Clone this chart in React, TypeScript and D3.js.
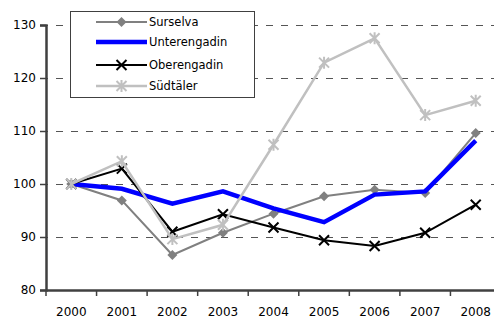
import React, { useEffect, useRef } from "react";
import * as d3 from "d3";

const years = ["2000", "2001", "2002", "2003", "2004", "2005", "2006", "2007", "2008"];
const yTicks = [80, 90, 100, 110, 120, 130];
const surselva = [100, 96.9, 86.6, 90.8, 94.4, 97.7, 98.9, 98.3, 109.6];
const unterengadin = [100, 99.1, 96.3, 98.6, 95.4, 92.8, 98.0, 98.6, 108.2];
const oberengadin = [100, 102.9, 91.0, 94.3, 91.8, 89.4, 88.3, 90.8, 96.1];
const suedtaeler = [100, 104.3, 89.6, 92.3, 107.4, 122.9, 127.5, 113.0, 115.7];

const series = [
  { name: "Surselva", values: surselva, color: "#808080", width: 2, marker: "diamond" },
  { name: "Unterengadin", values: unterengadin, color: "#0000ff", width: 4.5, marker: "none" },
  { name: "Oberengadin", values: oberengadin, color: "#000000", width: 2, marker: "x" },
  { name: "Südtäler", values: suedtaeler, color: "#c0c0c0", width: 2.5, marker: "star" },
];

const W = 494;
const H = 318;

function drawMarker(g: any, type: string, x: number, y: number, color: string) {
  if (type === "diamond") {
    g.append("path")
      .attr("d", `M${x},${y - 5}L${x + 5},${y}L${x},${y + 5}L${x - 5},${y}Z`)
      .attr("fill", color);
  } else if (type === "x") {
    g.append("path")
      .attr("d", `M${x - 5},${y - 5}L${x + 5},${y + 5}M${x - 5},${y + 5}L${x + 5},${y - 5}`)
      .attr("stroke", color)
      .attr("stroke-width", 2);
  } else if (type === "star") {
    g.append("path")
      .attr(
        "d",
        `M${x - 5},${y - 5}L${x + 5},${y + 5}M${x - 5},${y + 5}L${x + 5},${y - 5}M${x},${y - 6}L${x},${y + 6}`
      )
      .attr("stroke", color)
      .attr("stroke-width", 2);
  }
}

export default function App() {
  const ref = useRef<SVGSVGElement>(null);

  useEffect(() => {
    const svg = d3.select(ref.current);
    svg.selectAll("*").remove();

    const x = d3.scaleBand().domain(years).range([46, 501]);
    const y = d3.scaleLinear().domain([80, 130]).range([290, 25]);
    const cx = (i: number) => (x(years[i]) as number) + x.bandwidth() / 2;

    // grid
    svg
      .append("g")
      .selectAll("line")
      .data(yTicks.filter((t) => t > 80))
      .join("line")
      .attr("x1", 46)
      .attr("x2", W)
      .attr("y1", (d) => Math.round(y(d)) + 0.5)
      .attr("y2", (d) => Math.round(y(d)) + 0.5)
      .attr("stroke", "#555")
      .attr("stroke-width", 1)
      .attr("stroke-dasharray", "7,8")
      .attr("stroke-dashoffset", -10);

    // y axis
    const yAxis = svg
      .append("g")
      .attr("transform", "translate(46,0)")
      .call(d3.axisLeft(y).tickValues(yTicks).tickSize(6).tickPadding(4));
    yAxis.select(".domain").attr("stroke", "#404040").attr("stroke-width", 2.5);
    yAxis.selectAll(".tick line").attr("stroke", "#404040").attr("stroke-width", 1.5);
    yAxis.selectAll("text").attr("font-family", "DejaVu Sans").attr("font-size", 12).attr("fill", "#000");

    // x axis
    const xAxis = svg
      .append("g")
      .attr("transform", "translate(0,290)")
      .call(d3.axisBottom(x).tickSize(0).tickPadding(17));
    xAxis.select(".domain").attr("stroke", "#404040").attr("stroke-width", 2.5);
    xAxis.selectAll("text").attr("font-family", "DejaVu Sans").attr("font-size", 12).attr("fill", "#000");
    svg
      .append("g")
      .selectAll("line")
      .data(years)
      .join("line")
      .attr("x1", (d) => x(d) as number)
      .attr("x2", (d) => x(d) as number)
      .attr("y1", 290)
      .attr("y2", 296)
      .attr("stroke", "#404040")
      .attr("stroke-width", 1.5);

    const line = d3
      .line<number>()
      .x((_, i) => cx(i))
      .y((d) => y(d));

    const plot = svg.append("g");
    series.forEach((s) => {
      plot
        .append("path")
        .attr("d", line(s.values))
        .attr("fill", "none")
        .attr("stroke", s.color)
        .attr("stroke-width", s.width)
        .attr("stroke-linejoin", "miter");
      s.values.forEach((v, i) => drawMarker(plot, s.marker, cx(i), y(v), s.color));
    });

    // legend
    const lg = svg.append("g");
    lg.append("rect")
      .attr("x", 70.5)
      .attr("y", 11.5)
      .attr("width", 184)
      .attr("height", 86)
      .attr("fill", "#fff")
      .attr("stroke", "#404040")
      .attr("stroke-width", 1);
    const rowY = [22, 42, 65, 86];
    series.forEach((s, i) => {
      const ly = rowY[i];
      lg.append("line")
        .attr("x1", 96)
        .attr("x2", 147)
        .attr("y1", ly)
        .attr("y2", ly)
        .attr("stroke", s.color)
        .attr("stroke-width", s.width);
      drawMarker(lg, s.marker, 121.5, ly, s.color);
      lg.append("text")
        .attr("x", 149)
        .attr("y", ly + 4)
        .attr("font-family", "DejaVu Sans")
        .attr("font-size", 11.5)
        .attr("fill", "#000")
        .text(s.name);
    });
  }, []);

  return <svg ref={ref} width={W} height={H} style={{ position: "absolute", left: 0, top: 0 }} />;
}
